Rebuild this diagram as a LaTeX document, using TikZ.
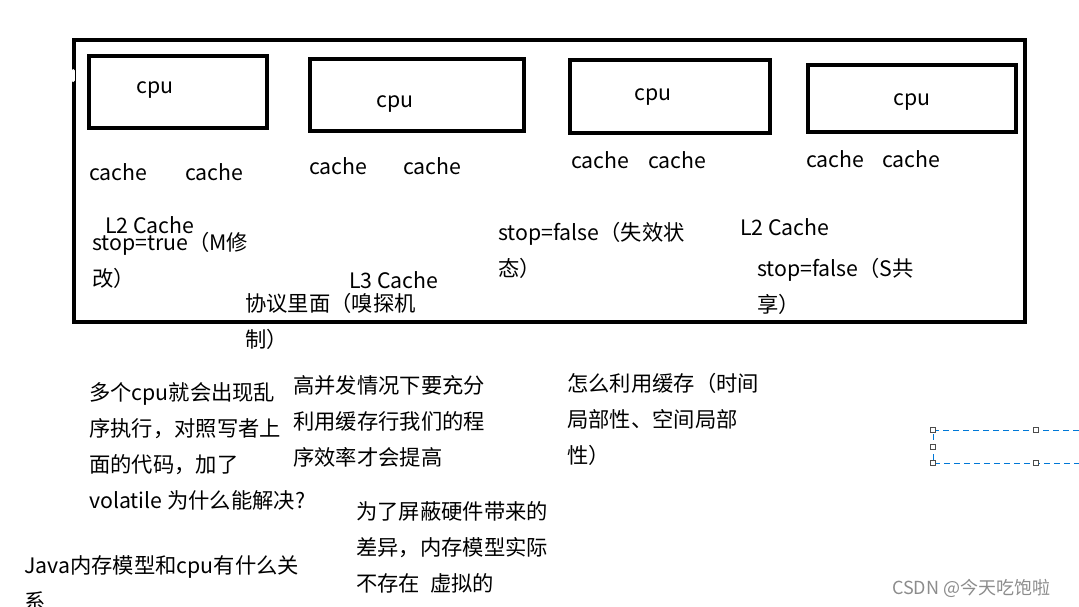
\documentclass[tikz,border=0pt]{standalone}
\usepackage{fontspec}
\setmainfont{Noto Sans CJK SC}
\begin{document}
\begin{tikzpicture}[x=1pt,y=-1pt,
  frame/.style={draw=black,line width=4.5pt},
  txt/.style={anchor=base west,inner sep=0pt,font=\fontsize{21.3}{25}\selectfont,text=black},
  wmark/.style={anchor=base west,inner sep=0pt,font=\fontsize{18}{22}\selectfont,text=black!45},
  selline/.style={draw={rgb,255:red,0;green,120;blue,215},line width=1pt,dash pattern=on 6pt off 4pt},
  handle/.style={draw=black!70,fill=white,line width=1pt,minimum size=5pt,inner sep=0pt,rectangle}]
\useasboundingbox (0,0) rectangle (1079,606);
% outer frame and cpu boxes
\draw[frame] (74,40) rectangle (1025,322);
\fill[white,rounded corners=1.5pt] (71.5,69) rectangle (74.8,82);
\draw[frame] (89,56) rectangle (267,128);
\draw[frame] (310,59) rectangle (524,131);
\draw[frame] (570,60) rectangle (770,133);
\draw[frame] (808,65) rectangle (1016,132);
% cpu labels
\node[txt] (cpu1) at (136,93) {cpu};
\node[txt] (cpu2) at (376,107) {cpu};
\node[txt] (cpu3) at (634,100) {cpu};
\node[txt] (cpu4) at (893,105) {cpu};
% caches
\node[txt] (c1a) at (89,180) {cache};
\node[txt] (c1b) at (185,180) {cache};
\node[txt] (c2a) at (309,174) {cache};
\node[txt] (c2b) at (403,174) {cache};
\node[txt] (c3a) at (571,168) {cache};
\node[txt] (c3b) at (648,168) {cache};
\node[txt] (c4a) at (806,167) {cache};
\node[txt] (c4b) at (882,167) {cache};
% inside texts
\node[txt] (l2a) at (105,233) {L2 Cache};
\node[txt] (s1a) at (92,250) {stop=true（M修};
\node[txt] (s1b) at (92,286) {改）};
\node[txt] (l3) at (349,288) {L3 Cache};
\node[txt] (p1a) at (245,311) {协议里面（嗅探机};
\node[txt] (p1b) at (245,347) {制）};
\node[txt] (s2a) at (498,240) {stop=false（失效状};
\node[txt] (s2b) at (498,276) {态）};
\node[txt] (l2b) at (740,235) {L2 Cache};
\node[txt] (s3a) at (757,276) {stop=false（S共};
\node[txt] (s3b) at (757,312) {享）};
% notes below
\node[txt] (q1) at (89,400) {多个cpu就会出现乱};
\node[txt] (q2) at (89,436) {序执行，对照写者上};
\node[txt] (q3) at (89,472) {面的代码，加了};
\node[txt] (q4) at (89,508) {volatile 为什么能解决?};
\node[txt] (h1) at (293,393) {高并发情况下要充分};
\node[txt] (h2) at (293,429) {利用缓存行我们的程};
\node[txt] (h3) at (293,465) {序效率才会提高};
\node[txt] (u1) at (567,391) {怎么利用缓存（时间};
\node[txt] (u2) at (567,427) {局部性、空间局部};
\node[txt] (u3) at (567,463) {性）};
\node[txt] (w1) at (356,519) {为了屏蔽硬件带来的};
\node[txt] (w2) at (356,555) {差异，内存模型实际};
\node[txt] (w3) at (356,591) {不存在\hspace{10pt}虚拟的};
\node[txt] (j1) at (24,573) {Java内存模型和cpu有什么关};
\node[txt] (j2) at (24,609) {系};
% selection box
\coordinate (sa) at (933,430);
\coordinate (sb) at (1079,430);
\coordinate (sc) at (933,463);
\coordinate (sd) at (1079,463);
\draw[selline] (sb) -- (sa) -- (sc) -- (sd);
\node[handle] (h11) at (933,430) {};
\node[handle] (h12) at (933,446.5) {};
\node[handle] (h13) at (933,463) {};
\node[handle] (h14) at (1036,430) {};
\node[handle] (h15) at (1036,463) {};
% watermark
\node[wmark] (wm) at (892,594) {CSDN @今天吃饱啦};
\end{tikzpicture}
\end{document}
